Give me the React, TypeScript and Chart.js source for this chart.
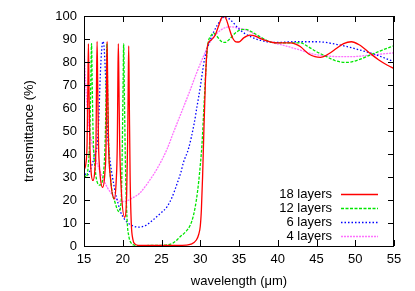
import React, { useEffect, useRef } from "react";
import { Chart, registerables } from "chart.js";

Chart.register(...registerables);

// ---- data (wavelength in µm, transmittance in %) ----
const labels = ["18 layers", "12 layers", "6 layers", "4 layers"];

const wl18 = [15.0, 15.25, 15.4, 15.5, 15.57, 15.64, 15.75, 15.9, 16.15, 16.4, 16.55, 16.62, 16.69, 16.76, 16.87, 17.05, 17.4, 17.7, 17.85, 17.92, 17.98, 18.05, 18.16, 18.4, 18.9, 19.15, 19.3, 19.37, 19.43, 19.5, 19.6, 19.8, 20.25, 20.5, 20.63, 20.71, 20.77, 20.84, 20.95, 21.1, 21.3, 21.6, 22, 27, 28.2, 28.8, 29.5, 29.8, 30.0, 30.15, 30.3, 30.45, 30.65, 30.85, 31.0, 31.4, 31.9, 32.4, 32.8, 33.0, 33.3, 33.7, 34.1, 34.6, 35.0, 35.6, 36.4, 37, 37.7, 39, 40, 41.6, 42.3, 42.9, 44, 44.8, 45.5, 45.9, 46.8, 47.6, 48.5, 49.5, 50.5, 51.9, 53, 54.1, 55];
const t18 = [33, 36, 45, 70, 88, 70, 45, 33, 28.5, 33, 45, 72, 89, 72, 45, 32, 25.5, 32, 45, 72, 89, 72, 45, 30, 20.5, 28, 45, 72, 88, 72, 45, 25, 12.5, 22, 45, 72, 87, 65, 30, 10, 3, 0.8, 0.3, 0.3, 0.4, 0.8, 2.6, 5, 8.5, 16, 30, 48, 70, 84, 88, 89.5, 91.5, 96, 99.5, 99.8, 99, 95, 91, 88.8, 88.7, 90.5, 91.7, 91.4, 90.3, 88.8, 88.3, 88.3, 87.8, 86.7, 83.5, 82.3, 82, 82.3, 84, 86, 88, 88.8, 87.5, 83.8, 81, 78.7, 77.2];

const wl12 = [15.0, 15.3, 15.55, 15.75, 15.88, 15.97, 16.05, 16.18, 16.45, 17.05, 17.55, 17.75, 17.88, 17.96, 18.04, 18.18, 18.5, 19.0, 19.5, 19.8, 19.95, 20.05, 20.12, 20.2, 20.35, 20.55, 20.8, 21.1, 21.5, 22, 25, 26.5, 27.4, 28.2, 28.7, 29.1, 29.5, 29.8, 30.0, 30.2, 30.5, 30.8, 31.0, 31.4, 31.7, 32.2, 32.7, 33.2, 33.8, 34.5, 35.2, 35.8, 36.7, 37.7, 38.5, 39.4, 41, 42.9, 44, 45, 45.9, 47.5, 48.9, 50.3, 51.9, 53.5, 55];
const t12 = [31, 30, 35, 48, 72, 88, 72, 48, 33, 26.5, 33, 48, 72, 88, 70, 45, 27, 19, 15, 20, 45, 72, 88, 68, 35, 12, 4, 1.2, 0.4, 0.2, 0.3, 1.3, 4, 6.5, 9, 13, 20, 28, 35, 43, 62, 81, 88, 91.5, 92.5, 91, 89, 88.5, 90, 92.5, 94, 94.2, 93, 91, 89.5, 88.4, 88.3, 88.3, 86.5, 84.5, 83, 80.5, 79.8, 80.8, 83, 85.2, 87.1];

const wl6 = [15.0, 15.25, 15.5, 15.8, 16.1, 16.4, 16.7, 16.9, 17.1, 17.3, 17.45, 17.6, 17.8, 18.0, 18.2, 18.4, 18.7, 19.0, 19.4, 19.7, 20.3, 21, 22, 23, 23.9, 24.8, 25.7, 26.4, 27, 27.5, 27.8, 28.5, 29.2, 29.6, 30, 30.3, 30.6, 31.3, 32.2, 33.2, 34, 35.1, 36.5, 38.6, 40, 42, 45, 48, 50.6, 52.8, 55];
const t6 = [33, 30.8, 31, 33, 36, 39.5, 44, 55, 74, 86, 89, 86, 72, 52, 42, 36, 29.5, 24, 18.5, 15, 11.3, 9.3, 8.2, 9, 11.3, 14, 17, 21.5, 27, 32, 36, 42.5, 53, 61, 69, 76, 82, 89.6, 96, 99.7, 98, 94, 91, 88.8, 88.5, 88.8, 88.8, 87.4, 85.2, 83, 80.1];

const wl4 = [15.0, 15.2, 15.5, 16, 16.5, 17, 17.5, 18, 18.6, 19.2, 19.8, 20.5, 21.2, 22.2, 23.5, 24.5, 25.7, 26.5, 27.5, 28.7, 29.5, 30.4, 31.3, 32.5, 33.8, 35, 36.4, 37.5, 39, 41, 42.9, 44.5, 46.3, 49.3, 52, 55];
const t4 = [88, 72, 56, 45, 38, 33, 29, 25.5, 22.5, 20.2, 19.3, 19.6, 20.8, 23, 28.7, 34, 42, 49, 57.5, 67.8, 75, 82.3, 89, 93.5, 95.3, 94.7, 93.2, 91, 88.8, 87, 85.2, 83.5, 82.6, 82.3, 83, 84];

const xTicksMin = 15;
const xTicksMax = 55;
const xStep = 5;
const yMin = 0;
const yMax = 100;
const yStep = 10;

const FONT = "'Liberation Sans', Arial, sans-serif";

function zip(xs: number[], ys: number[]) {
  return xs.map((x, i) => ({ x, y: ys[i] }));
}

const gnuplotPlugin = {
  id: "gnuplotFrame",
  afterDatasetsDraw(chart: any) {
    const { ctx, chartArea: a, scales } = chart;
    const xs = scales.x;
    const ys = scales.y;
    ctx.save();
    ctx.strokeStyle = "#000";
    ctx.lineWidth = 1;
    ctx.setLineDash([]);
    ctx.strokeRect(a.left + 0.5, a.top + 0.5, a.right - a.left - 1, a.bottom - a.top);
    ctx.beginPath();
    const tl = 6;
    xs.ticks.forEach((t: any) => {
      const p = Math.round(xs.getPixelForValue(t.value)) + 0.5;
      ctx.moveTo(p, a.bottom);
      ctx.lineTo(p, a.bottom - tl);
      ctx.moveTo(p, a.top);
      ctx.lineTo(p, a.top + tl);
    });
    ys.ticks.forEach((t: any) => {
      const p = Math.round(ys.getPixelForValue(t.value)) + 0.5;
      ctx.moveTo(a.left, p);
      ctx.lineTo(a.left + tl, p);
      ctx.moveTo(a.right, p);
      ctx.lineTo(a.right - tl, p);
    });
    ctx.stroke();

    // key (bottom right, text right-aligned, sample to the right)
    const ds = chart.data.datasets;
    ctx.font = "13px " + FONT;
    ctx.textAlign = "right";
    ctx.textBaseline = "middle";
    ctx.fillStyle = "#000";
    const lineEnd = a.right - 16;
    const lineStart = a.right - 53;
    const textRight = a.right - 62;
    ds.forEach((d: any, i: number) => {
      const y = a.bottom - 52 + i * 14;
      ctx.fillText(d.label, textRight, y);
      ctx.beginPath();
      ctx.strokeStyle = d.borderColor;
      ctx.lineWidth = d.borderWidth;
      ctx.setLineDash(d.borderDash || []);
      ctx.moveTo(lineStart, y + 0.5);
      ctx.lineTo(lineEnd, y + 0.5);
      ctx.stroke();
    });
    ctx.restore();
  },
};

export default function App() {
  const ref = useRef<HTMLCanvasElement | null>(null);

  useEffect(() => {
    if (!ref.current) return;
    Chart.defaults.font.family = FONT;
    Chart.defaults.font.size = 13;
    Chart.defaults.color = "#000";

    const common = {
      pointRadius: 0,
      fill: false,
      cubicInterpolationMode: "monotone" as const,
      borderWidth: 1.3,
    };

    const chart = new Chart(ref.current, {
      type: "line",
      data: {
        datasets: [
          { ...common, label: labels[0], data: zip(wl18, t18), borderColor: "#ff0000", borderDash: [] },
          { ...common, label: labels[1], data: zip(wl12, t12), borderColor: "#00e600", borderDash: [3, 1.5] },
          { ...common, label: labels[2], data: zip(wl6, t6), borderColor: "#0000ff", borderDash: [1.5, 2] },
          { ...common, label: labels[3], data: zip(wl4, t4), borderColor: "#ff70ff", borderDash: [2, 1] },
        ],
      },
      options: {
        animation: false,
        responsive: true,
        maintainAspectRatio: false,
        layout: { padding: { top: 16, right: 21, left: 0, bottom: 0 } },
        plugins: {
          legend: { display: false },
          tooltip: { enabled: false },
        },
        scales: {
          x: {
            type: "linear",
            min: xTicksMin,
            max: xTicksMax,
            ticks: { stepSize: xStep, padding: 6, maxRotation: 0, font: { size: 13 } },
            grid: { display: false, drawTicks: false },
            border: { display: false },
            title: { display: true, text: "wavelength (μm)", padding: { top: 0, bottom: 1.5 }, font: { size: 13 } },
            afterFit: (s: any) => {
              s.height = 45;
            },
          },
          y: {
            type: "linear",
            min: yMin,
            max: yMax,
            ticks: { stepSize: yStep, padding: 7, font: { size: 13 } },
            grid: { display: false, drawTicks: false },
            border: { display: false },
            title: { display: true, text: "transmittance (%)", padding: { top: 22, bottom: 0 }, font: { size: 13 } },
            afterFit: (s: any) => {
              s.width = 84;
            },
          },
        },
      },
      plugins: [gnuplotPlugin],
    });
    return () => chart.destroy();
  }, []);

  return (
    <div style={{ position: "absolute", left: 0, top: 0, width: 415, height: 291, background: "#fff" }}>
      <canvas ref={ref} />
    </div>
  );
}
